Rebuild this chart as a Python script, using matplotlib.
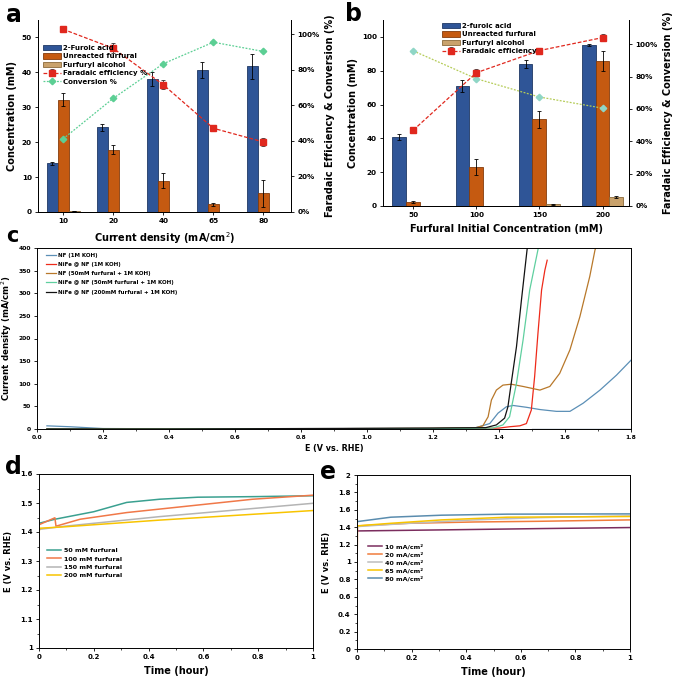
import matplotlib
matplotlib.use('Agg')
import matplotlib.pyplot as plt
import numpy as np
from matplotlib.ticker import PercentFormatter, MultipleLocator, FuncFormatter

plt.rcParams['font.family'] = ['DejaVu Sans']

# ---------------- Panel a data ----------------
a_categories = ['10', '20', '40', '65', '80']
a_furoic = [14.0, 24.3, 38.2, 40.7, 41.8]
a_furoic_err = [0.4, 1.0, 2.0, 2.2, 3.6]
a_furfural = [32.2, 17.9, 9.0, 2.2, 5.3]
a_furfural_err = [1.9, 1.3, 2.1, 0.5, 4.0]
a_alcohol = [0.4, 0.0, 0.0, 0.0, 0.0]
a_fe = [102.8, 92.1, 71.6, 47.1, 39.4]
a_fe_err = [0.0, 2.8, 2.5, 1.6, 2.2]
a_conv = [41.1, 63.9, 83.4, 95.5, 90.3]

# ---------------- Panel b data ----------------
b_categories = ['50', '100', '150', '200']
b_furoic = [40.8, 71.2, 84.1, 95.3]
b_furoic_err = [2.0, 3.5, 2.5, 0.8]
b_furfural = [2.2, 23.0, 51.2, 85.7]
b_furfural_err = [0.5, 4.5, 5.0, 6.0]
b_alcohol = [0.0, 0.0, 1.0, 5.3]
b_alcohol_err = [0.0, 0.0, 0.3, 0.4]
b_fe = [46.9, 82.4, 96.1, 104.1]
b_fe_err = [2.0, 2.0, 1.0, 2.0]
b_conv = [95.9, 78.7, 67.4, 60.5]

# ---------------- Panel c data (LSV) ----------------
c_labels = ['NF (1M KOH)', 'NiFe @ NF (1M KOH)', 'NF (50mM furfural + 1M KOH)',
            'NiFe @ NF (50mM furfural + 1M KOH)', 'NiFe @ NF (200mM furfural + 1M KOH)']
c_nf_v = [0.03, 0.10, 0.15, 0.20, 0.40, 0.80, 1.00, 1.20, 1.33, 1.372, 1.397, 1.422, 1.443,
          1.483, 1.524, 1.574, 1.615, 1.655, 1.706, 1.756, 1.80]
c_nf_j = [7, 5, 3, 1, 0.5, 0.5, 1, 1.5, 3, 12, 35, 49, 52, 48, 43, 39, 39, 57, 86, 119, 152]
c_nife_v = [0.03, 0.40, 0.80, 1.20, 1.40, 1.432, 1.463, 1.483, 1.498, 1.508, 1.518, 1.529,
            1.539, 1.546]
c_nife_j = [0, 0, 0.5, 1, 2, 5, 7, 12, 42, 116, 211, 307, 351, 373]
c_nffur_v = [0.03, 0.40, 0.80, 1.20, 1.33, 1.351, 1.367, 1.377, 1.392, 1.412, 1.437, 1.473,
             1.524, 1.554, 1.584, 1.615, 1.645, 1.675, 1.691, 1.70]
c_nffur_j = [0, 0, 0.5, 1.5, 3, 7, 27, 64, 86, 97, 99, 94, 86, 94, 123, 175, 248, 337, 396, 410]
c_nifefur_v = [0.03, 0.40, 0.80, 1.20, 1.38, 1.412, 1.432, 1.453, 1.473, 1.493, 1.518, 1.522]
c_nifefur_j = [0, 0, 0.5, 1, 2, 9, 27, 101, 197, 307, 396, 410]
c_nife200_v = [0.03, 0.40, 0.80, 1.20, 1.36, 1.392, 1.417, 1.427, 1.437, 1.453, 1.468, 1.485, 1.487]
c_nife200_j = [0, 0, 1, 2, 3, 9, 24, 49, 101, 182, 285, 396, 410]

# ---------------- Panel d data ----------------
d_labels = ['50 mM furfural', '100 mM furfural', '150 mM furfural', '200 mM furfural']
d_50_t = [0.0, 0.058, 0.2, 0.32, 0.44, 0.58, 0.79, 1.0]
d_50_e = [1.430, 1.444, 1.470, 1.502, 1.513, 1.520, 1.522, 1.525]
d_100_t = [0.0, 0.058, 0.062, 0.15, 0.32, 0.50, 0.67, 0.78, 1.0]
d_100_e = [1.425, 1.449, 1.420, 1.444, 1.467, 1.485, 1.502, 1.513, 1.527]
d_150_t = [0.0, 0.095, 0.44, 1.0]
d_150_e = [1.409, 1.420, 1.453, 1.499]
d_200_t = [0.0, 0.003, 0.095, 0.44, 1.0]
d_200_e = [1.400, 1.413, 1.418, 1.441, 1.474]

# ---------------- Panel e data ----------------
e_labels = ['10 mA/cm²', '20 mA/cm²', '40 mA/cm²', '65 mA/cm²', '80 mA/cm²']
e_10_t = [0.0, 0.31, 0.67, 1.0]
e_10_e = [1.357, 1.369, 1.384, 1.396]
e_20_t = [0.0, 0.002, 0.19, 0.43, 0.67, 1.0]
e_20_e = [0.88, 1.415, 1.445, 1.460, 1.468, 1.484]
e_40_t = [0.0, 0.19, 0.43, 0.67, 1.0]
e_40_e = [1.407, 1.445, 1.484, 1.510, 1.530]
e_65_t = [0.0, 0.124, 0.31, 0.55, 1.0]
e_65_e = [1.415, 1.445, 1.484, 1.515, 1.523]
e_80_t = [0.0, 0.124, 0.31, 0.55, 1.0]
e_80_e = [1.464, 1.515, 1.538, 1.550, 1.553]

# ---------------- styles ----------------
BLUE, BLUE_E = '#2f5597', '#1f3864'
ORANGE, ORANGE_E = '#c55a11', '#843c0c'
TAN, TAN_E = '#c9a26c', '#8b6a3a'
RED = '#e0281e'
GREEN = '#5ccf94'
TICK_FS = 5.2
LAB_FS = 7

W, H = 676, 683
fig = plt.figure(figsize=(W / 100, H / 100), dpi=100)


def px_axes(left, top, right, bottom):
    return fig.add_axes([left / W, 1 - bottom / H, (right - left) / W, (bottom - top) / H])


def style_ticks(ax, fs=TICK_FS):
    ax.tick_params(axis='both', labelsize=fs, length=2.5, width=0.6, direction='out', pad=2)
    ax.tick_params(which='minor', length=1.5, width=0.5, direction='out')
    for lab in ax.get_xticklabels() + ax.get_yticklabels():
        lab.set_fontweight('bold')
    for s in ax.spines.values():
        s.set_linewidth(0.7)


def bar_panel(ax, cats, furoic, furoic_err, furfural, furfural_err, alcohol, alcohol_err,
              fe, fe_err, conv, names, xlabel, ylim, ylim2, ytick, xlim, conv_ls, conv_color,
              conv_mfc, legend_anchor, legend_loc, show_conv_legend):
    x = np.arange(len(cats))
    w = 0.22
    ekw = dict(elinewidth=0.6, capsize=1.2, capthick=0.6, ecolor='black')
    h1 = ax.bar(x - w, furoic, w, yerr=furoic_err, color=BLUE, edgecolor=BLUE_E, linewidth=0.6,
                error_kw=ekw, label=names[0])
    h2 = ax.bar(x, furfural, w, yerr=furfural_err, color=ORANGE, edgecolor=ORANGE_E,
                linewidth=0.6, error_kw=ekw, label=names[1])
    h3 = ax.bar(x + w, alcohol, w, yerr=alcohol_err, color=TAN, edgecolor=TAN_E, linewidth=0.6,
                error_kw=ekw, label=names[2])
    ax.set_xlim(*xlim)
    ax.set_ylim(*ylim)
    ax.yaxis.set_major_locator(MultipleLocator(ytick))
    ax.set_xticks(x)
    ax.set_xticklabels(cats)
    ax.tick_params(axis='x', length=0)
    ax.set_ylabel('Concentration (mM)', fontsize=LAB_FS, fontweight='bold', labelpad=3)
    ax.set_xlabel(xlabel, fontsize=LAB_FS, fontweight='bold', labelpad=4)
    ax.spines['top'].set_visible(False)
    style_ticks(ax)
    ax2 = ax.twinx()
    ax2.set_ylim(*ylim2)
    ax2.yaxis.set_major_locator(MultipleLocator(20))
    ax2.yaxis.set_major_formatter(PercentFormatter(100, decimals=0))
    ax2.spines['top'].set_visible(False)
    h4 = ax2.errorbar(x, fe, yerr=fe_err, fmt='s', ls=(0, (3, 1.5)), color=RED, lw=0.9,
                      ms=3.8, mfc=RED, mec=RED, ecolor='#333333', elinewidth=0.6, capsize=1.2,
                      capthick=0.6, label=names[3])
    h5, = ax2.plot(x, conv, ls=conv_ls, color=conv_color, lw=0.9, marker='D', ms=3.3,
                   mfc=conv_mfc, mec=conv_mfc, label='Conversion %')
    ax2.set_ylabel('Faradaic Efficiency & Conversion (%)', fontsize=LAB_FS, fontweight='bold',
                   labelpad=4)
    style_ticks(ax2)
    ax2.tick_params(axis='y', length=2.5)
    handles = [h1, h2, h3, h4] + ([h5] if show_conv_legend else [])
    labels = names[:4] + (['Conversion %'] if show_conv_legend else [])
    ax2.legend(handles, labels, loc=legend_loc, bbox_to_anchor=legend_anchor,
               frameon=False, prop=dict(weight='bold', size=5),
               handlelength=2.6, handleheight=0.8, labelspacing=0.35, borderaxespad=0,
               handletextpad=0.3)
    return ax2


# ---------------- Panel a ----------------
ax_a = px_axes(38, 20, 291, 212)
bar_panel(ax_a, a_categories, a_furoic, a_furoic_err, a_furfural, a_furfural_err, a_alcohol,
          [0] * 5, a_fe, a_fe_err, a_conv,
          ['2-Furoic acid', 'Unreacted furfural', 'Furfuryl alcohol', 'Faradaic efficiency %'],
          'Current density (mA/cm$^2$)', (0, 55), (0, 108), 10, (-0.5, 4.55),
          (0, (1.5, 1.2)), GREEN, GREEN, (0.01, 0.885), 'upper left', True)

# ---------------- Panel b ----------------
ax_b = px_axes(383, 20, 629, 206)
bar_panel(ax_b, b_categories, b_furoic, b_furoic_err, b_furfural, b_furfural_err, b_alcohol,
          b_alcohol_err, b_fe, b_fe_err, b_conv,
          ['2-furoic acid', 'Unreacted furfural', 'Furfuryl alcohol', 'Faradaic efficiency'],
          'Furfural Initial Concentration (mM)', (0, 110), (0, 115), 20, (-0.48, 3.42),
          (0, (1.5, 1.2)), '#b5cc58', '#8fd6c6', (0.23, 1.0), 'upper left', False)

# ---------------- Panel c ----------------
ax_c = px_axes(37, 248, 631, 429)
c_series = [(c_nf_v, c_nf_j, '#5b8fb6'), (c_nife_v, c_nife_j, '#ee2a1a'),
            (c_nffur_v, c_nffur_j, '#b8782a'), (c_nifefur_v, c_nifefur_j, '#5fcf9f'),
            (c_nife200_v, c_nife200_j, '#111111')]
for (v, j, col), lab in zip(c_series, c_labels):
    ax_c.plot(v, j, color=col, lw=0.9, label=lab)
ax_c.plot([1.5, 1.8], [0.5, 0.5], color='#1f3864', lw=0.9)
ax_c.set_xlim(0, 1.8)
ax_c.set_ylim(0, 400)
ax_c.xaxis.set_major_locator(MultipleLocator(0.2))
ax_c.xaxis.set_minor_locator(MultipleLocator(0.1))
ax_c.yaxis.set_major_locator(MultipleLocator(50))
ax_c.xaxis.set_major_formatter(FuncFormatter(lambda v, p: f'{v:.1f}'))
ax_c.set_xlabel('E (V vs. RHE)', fontsize=5.8, fontweight='bold', labelpad=3)
ax_c.set_ylabel('Current density (mA/cm$^2$)', fontsize=6.2, fontweight='bold', labelpad=3)
style_ticks(ax_c, fs=4.3)
ax_c.legend(loc='upper left', bbox_to_anchor=(0.012, 0.985), frameon=False,
            prop=dict(size=4, weight='bold'), handlelength=1.8, labelspacing=0.75,
            borderaxespad=0, handletextpad=0.3)


def fmt_g(v, p):
    return f'{v:.10g}' if abs(v) > 1e-9 else '0'


# ---------------- Panel d ----------------
ax_d = px_axes(39, 474, 313, 648)
d_series = [(d_50_t, d_50_e, '#3aa090'), (d_100_t, d_100_e, '#f07848'),
            (d_150_t, d_150_e, '#b4b4b4'), (d_200_t, d_200_e, '#f8c400')]
for (t, e, col), lab in zip(d_series, d_labels):
    ax_d.plot(t, e, color=col, lw=1.1, label=lab)
ax_d.set_xlim(0, 1)
ax_d.set_ylim(1, 1.6)
ax_d.xaxis.set_major_locator(MultipleLocator(0.2))
ax_d.xaxis.set_minor_locator(MultipleLocator(0.1))
ax_d.yaxis.set_major_locator(MultipleLocator(0.1))
ax_d.yaxis.set_minor_locator(MultipleLocator(0.05))
ax_d.xaxis.set_major_formatter(FuncFormatter(fmt_g))
ax_d.yaxis.set_major_formatter(FuncFormatter(fmt_g))
ax_d.set_xlabel('Time (hour)', fontsize=LAB_FS, fontweight='bold', labelpad=4)
ax_d.set_ylabel('E (V vs. RHE)', fontsize=6, fontweight='bold', labelpad=5)
style_ticks(ax_d, fs=5)
ax_d.legend(loc='upper left', bbox_to_anchor=(0.02, 0.59), frameon=False,
            prop=dict(size=4.6, weight='bold'), handlelength=2.2, labelspacing=0.45,
            borderaxespad=0, handletextpad=0.5)

# ---------------- Panel e ----------------
ax_e = px_axes(357, 475, 630, 649)
e_series = [(e_10_t, e_10_e, '#7b2d5e'), (e_20_t, e_20_e, '#f07c3c'),
            (e_40_t, e_40_e, '#bdbdbd'), (e_65_t, e_65_e, '#f8c400'),
            (e_80_t, e_80_e, '#5a8cae')]
for (t, e, col), lab in zip(e_series, e_labels):
    ax_e.plot(t, e, color=col, lw=1.1, label=lab)
ax_e.set_xlim(0, 1)
ax_e.set_ylim(0, 2)
ax_e.xaxis.set_major_locator(MultipleLocator(0.2))
ax_e.xaxis.set_minor_locator(MultipleLocator(0.1))
ax_e.yaxis.set_major_locator(MultipleLocator(0.2))
ax_e.yaxis.set_minor_locator(MultipleLocator(0.1))
ax_e.xaxis.set_major_formatter(FuncFormatter(fmt_g))
ax_e.yaxis.set_major_formatter(FuncFormatter(fmt_g))
ax_e.set_xlabel('Time (hour)', fontsize=LAB_FS, fontweight='bold', labelpad=4)
ax_e.set_ylabel('E (V vs. RHE)', fontsize=6, fontweight='bold', labelpad=5)
style_ticks(ax_e, fs=5)
ax_e.legend(loc='upper left', bbox_to_anchor=(0.03, 0.62), frameon=False,
            prop=dict(size=4.6, weight='bold'), handlelength=2.2, labelspacing=0.4,
            borderaxespad=0, handletextpad=0.5)

# ---------------- Panel letters ----------------
for ch, xp, yp, fs in [('a', 6, 3, 17), ('b', 345, 2, 17), ('c', 6, 226, 15),
                       ('d', 5, 455, 17), ('e', 320, 460, 17)]:
    fig.text(xp / W, 1 - yp / H, ch, fontsize=fs, fontweight='bold', va='top', ha='left')

fig.savefig('out.png', dpi=100)
